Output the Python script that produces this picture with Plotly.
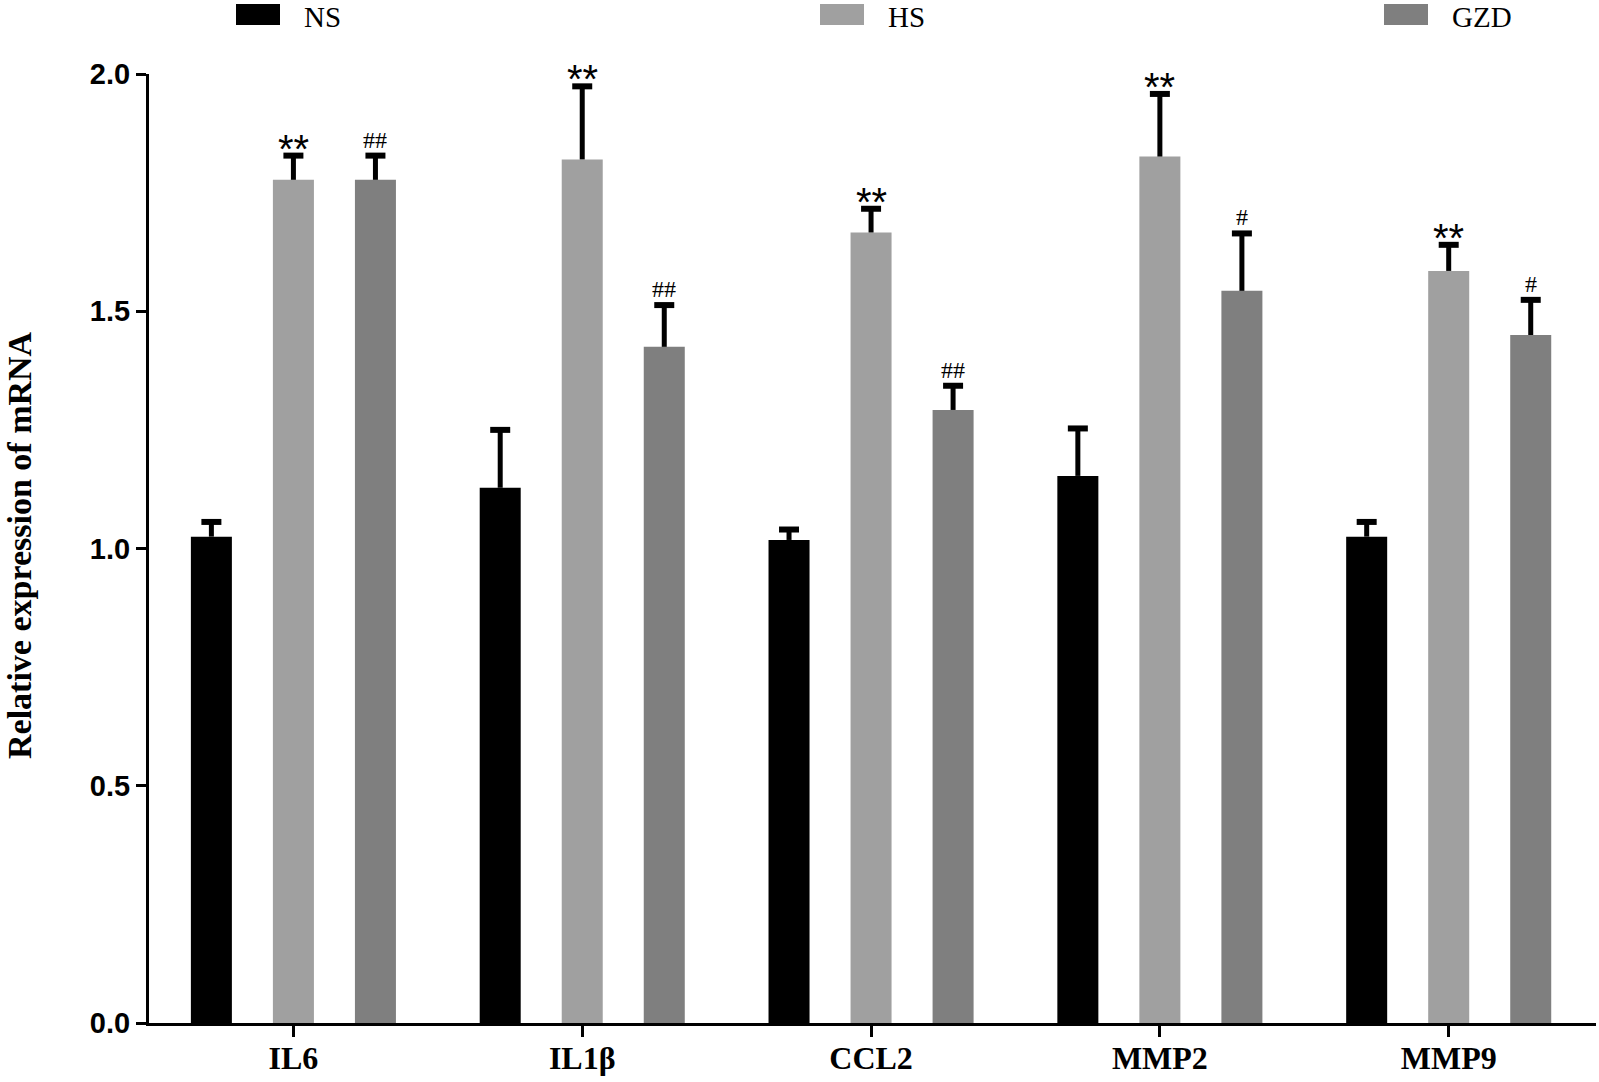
import plotly.graph_objects as go

genes = ["IL6", "IL1β", "CCL2", "MMP2", "MMP9"]
groups = ["NS", "HS", "GZD"]
colors = ["#000000", "#a0a0a0", "#7f7f7f"]

ns_mean = [1.025, 1.128, 1.018, 1.153, 1.025]
ns_err = [0.031, 0.122, 0.022, 0.100, 0.031]
hs_mean = [1.777, 1.820, 1.666, 1.826, 1.585]
hs_err = [0.051, 0.154, 0.050, 0.132, 0.055]
gzd_mean = [1.777, 1.425, 1.292, 1.543, 1.450]
gzd_err = [0.051, 0.088, 0.051, 0.121, 0.074]

hs_marks = ["**", "**", "**", "**", "**"]
gzd_marks = ["##", "##", "##", "#", "#"]

means = [ns_mean, hs_mean, gzd_mean]
errs = [ns_err, hs_err, gzd_err]

W, H = 1599, 1082
L, R, T, B = 149, 3, 74, 59
pw = W - L - R
ph = H - T - B
BARGAP = 0.148
slot = (1 - BARGAP) / 3
X_RANGE = [-0.5, 4.51]
cap_half = 10 * (X_RANGE[1] - X_RANGE[0]) / pw

fig = go.Figure()
for g, m, c in zip(groups, means, colors):
    fig.add_trace(go.Bar(
        name=g, x=genes, y=m,
        marker=dict(color=c, line=dict(width=0)),
        showlegend=False,
    ))

# error bars (upper only) on an overlaid numeric x axis
stem_x, stem_y, cap_x, cap_y = [], [], [], []
for k, (m, e) in enumerate(zip(means, errs)):
    off = (k - 1) * slot
    for i, (mv, ev) in enumerate(zip(m, e)):
        xc = i + off
        stem_x += [xc, xc, None]
        stem_y += [mv, mv + ev, None]
        cap_x += [xc - cap_half, xc + cap_half, None]
        cap_y += [mv + ev, mv + ev, None]
fig.add_trace(go.Scatter(x=stem_x, y=stem_y, mode="lines", xaxis="x2",
                         line=dict(color="black", width=5), showlegend=False, hoverinfo="skip"))
fig.add_trace(go.Scatter(x=cap_x, y=cap_y, mode="lines", xaxis="x2",
                         line=dict(color="black", width=6), showlegend=False, hoverinfo="skip"))

annotations = []
for i, (mk, top) in enumerate(zip(hs_marks, [a + b for a, b in zip(hs_mean, hs_err)])):
    annotations.append(dict(x=i, y=top, xref="x", yref="y", text=mk, showarrow=False,
                            yanchor="bottom", yshift=-17,
                            font=dict(family="Liberation Sans", size=40, color="black")))
for i, (mk, top) in enumerate(zip(gzd_marks, [a + b for a, b in zip(gzd_mean, gzd_err)])):
    annotations.append(dict(x=i + slot, y=top, xref="x", yref="y", text=mk, showarrow=False,
                            yanchor="bottom", yshift=1,
                            font=dict(family="Liberation Serif", size=24, color="black")))

# y-axis title
annotations.append(dict(x=-(L - 19) / pw, y=(H - B - 545) / ph, xref="paper", yref="paper",
                        text="<b>Relative expression of mRNA</b>", showarrow=False,
                        textangle=-90, xanchor="center", yanchor="middle",
                        font=dict(family="Liberation Serif", size=34, color="black")))

# legend (manual, to match large swatches)
shapes = []
leg_x = [236, 820, 1384]
for g, c, lx in zip(groups, colors, leg_x):
    shapes.append(dict(type="rect", xref="paper", yref="paper",
                       x0=(lx - L) / pw, x1=(lx + 44 - L) / pw,
                       y0=(H - B - 25) / ph, y1=(H - B - 4) / ph,
                       fillcolor=c, line=dict(width=0)))
    annotations.append(dict(x=(lx + 67 - L) / pw, y=(H - B) / ph, xref="paper", yref="paper",
                            text=g, showarrow=False, xanchor="left", yanchor="top",
                            borderpad=0,
                            font=dict(family="Liberation Serif", size=29, color="black")))

fig.update_layout(
    width=W, height=H,
    margin=dict(l=L, r=R, t=T, b=B, autoexpand=False),
    paper_bgcolor="white", plot_bgcolor="white",
    barmode="group", bargap=BARGAP, bargroupgap=0.5,
    annotations=annotations, shapes=shapes,
    showlegend=False,
    xaxis2=dict(overlaying="x", range=X_RANGE, visible=False, fixedrange=True),
)
fig.layout.xaxis.update(
    range=X_RANGE, showgrid=False, zeroline=False,
    showline=True, linecolor="black", linewidth=3,
    ticks="outside", ticklen=11, tickwidth=3, tickcolor="black",
    tickfont=dict(family="Liberation Serif", size=32, color="black"),
    tickprefix="<b>", ticksuffix="</b>",
    ticklabelstandoff=-6,
)
fig.update_yaxes(
    range=[0, 2.0], tickvals=[0, 0.5, 1.0, 1.5, 2.0],
    ticktext=["<b>0.0</b>", "<b>0.5</b>", "<b>1.0</b>", "<b>1.5</b>", "<b>2.0</b>"],
    showgrid=False, zeroline=False,
    showline=True, linecolor="black", linewidth=3,
    ticks="outside", ticklen=10, tickwidth=3, tickcolor="black",
    tickfont=dict(family="Liberation Sans", size=29, color="black"),
)

fig.write_html("out.html", config={"displayModeBar": False},
               post_script="document.body.style.margin='0px';")
